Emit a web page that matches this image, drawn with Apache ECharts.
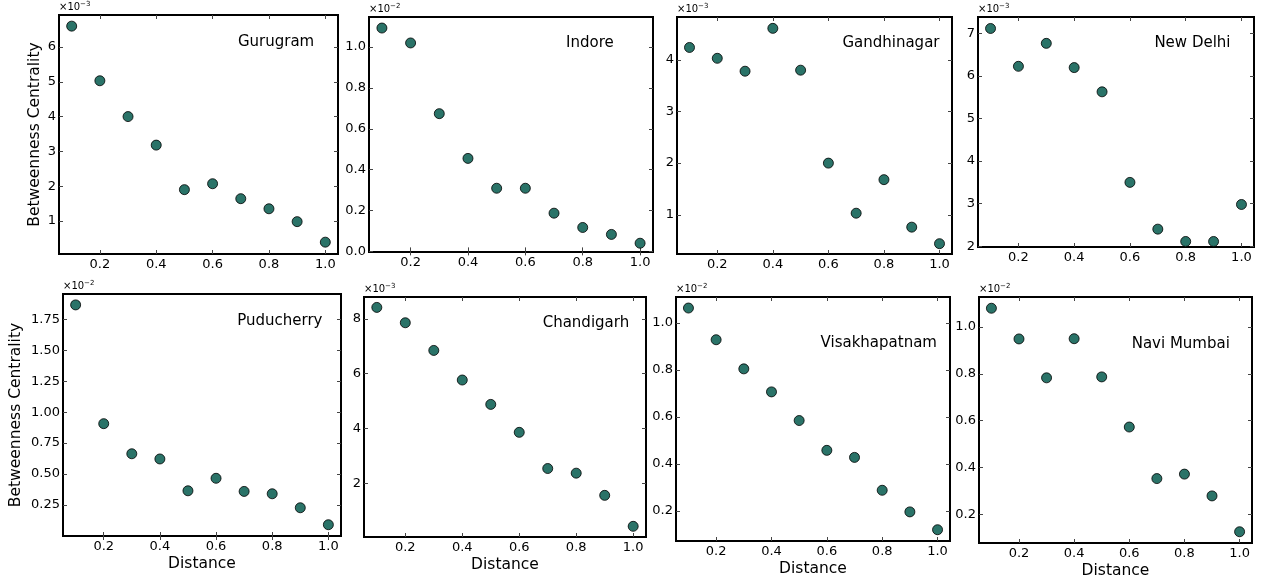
<!DOCTYPE html>
<html>
<head>
<meta charset="utf-8">
<script src="https://cdn.jsdelivr.net/npm/echarts@6/dist/echarts.min.js"></script>
<style>
  html, body { margin: 0; padding: 0; background: #fff; }
  #chart { width: 1262px; height: 581px; }
</style>
</head>
<body>
<div id="chart"></div>
<script>
// distance thresholds (x values shared by every panel)
const distance = [0.1, 0.2, 0.3, 0.4, 0.5, 0.6, 0.7, 0.8, 0.9, 1.0]
const xTicks = [0.2, 0.4, 0.6, 0.8, 1.0]

const cities = ['Gurugram', 'Indore', 'Gandhinagar', 'New Delhi', 'Puducherry', 'Chandigarh', 'Visakhapatnam', 'Navi Mumbai']

// betweenness centrality, in units of 10^exponent
const gurugram = [6.6, 5.03, 4.0, 3.18, 1.9, 2.07, 1.64, 1.35, 0.98, 0.39]
const indore = [1.093, 1.02, 0.674, 0.455, 0.309, 0.309, 0.187, 0.117, 0.083, 0.04]
const gandhinagar = [4.24, 4.03, 3.78, 4.61, 3.8, 2.0, 1.03, 1.68, 0.76, 0.44]
const newDelhi = [7.12, 6.23, 6.77, 6.2, 5.63, 3.5, 2.4, 2.11, 2.11, 2.98]
const puducherry = [1.866, 0.907, 0.664, 0.622, 0.365, 0.466, 0.36, 0.341, 0.228, 0.091]
const chandigarh = [8.42, 7.86, 6.85, 5.77, 4.88, 3.86, 2.54, 2.37, 1.56, 0.43]
const visakhapatnam = [1.064, 0.929, 0.805, 0.707, 0.585, 0.458, 0.428, 0.288, 0.196, 0.12]
const naviMumbai = [1.08, 0.949, 0.783, 0.95, 0.787, 0.573, 0.353, 0.372, 0.279, 0.126]

const exponents = [-3, -2, -3, -3, -2, -3, -2, -2]

const yTicks = [
  [1, 2, 3, 4, 5, 6],
  [0, 0.2, 0.4, 0.6, 0.8, 1.0],
  [1, 2, 3, 4],
  [2, 3, 4, 5, 6, 7],
  [0.25, 0.5, 0.75, 1.0, 1.25, 1.5, 1.75],
  [2, 4, 6, 8],
  [0.2, 0.4, 0.6, 0.8, 1.0],
  [0.2, 0.4, 0.6, 0.8, 1.0]
]
const yDecimals = [0, 1, 0, 0, 2, 0, 1, 1]
const yMin = [0.05, -0.003, 0.24, 1.98, 0.0, 0.04, 0.072, 0.078]
const yMax = [6.92, 1.147, 4.83, 7.39, 1.954, 8.8, 1.111, 1.128]

const allValues = [gurugram, indore, gandhinagar, newDelhi, puducherry, chandigarh, visakhapatnam, naviMumbai]

// plot boxes [left, top, width, height]
const boxes = [
  [59, 15, 279, 239],
  [369, 17, 284, 235],
  [677, 17, 275, 237],
  [978, 17, 276, 230],
  [63, 294, 278, 242],
  [364, 297, 282, 240],
  [676, 297, 274, 244],
  [979, 297, 273, 246]
]
// city label centre, as fraction of the box
const labelPos = [
  [0.778, 0.112], [0.778, 0.112], [0.778, 0.11], [0.777, 0.114],
  [0.78, 0.112], [0.787, 0.11], [0.74, 0.187], [0.739, 0.19]
]
const yNameGap = [16, 0, 0, 0, 39, 0, 0, 0]

const FONT = 'DejaVu Sans'
const tickStyle = { inside: true, length: 4, lineStyle: { color: '#444', width: 1 } }

const chart = echarts.init(document.getElementById('chart'), null, { renderer: 'canvas' })

const grid = []
const xAxis = []
const yAxis = []
const series = []
const graphic = []

cities.forEach((city, i) => {
  const [l, t, w, h] = boxes[i]
  grid.push({
    left: l, top: t, width: w, height: h,
    show: true, borderColor: '#000', borderWidth: 2, backgroundColor: 'transparent'
  })
  const bottomRow = i >= 4
  xAxis.push({
    type: 'value', gridIndex: i, position: 'bottom', min: 0.055, max: 1.045,
    axisLine: { show: false },
    axisTick: Object.assign({ customValues: xTicks }, tickStyle),
    splitLine: { show: false },
    axisLabel: {
      customValues: xTicks, margin: 4, fontFamily: FONT, fontSize: 13, color: '#000',
      formatter: v => v.toFixed(1)
    },
    name: bottomRow ? 'Distance' : '',
    nameLocation: 'middle', nameGap: 20,
    nameTextStyle: { fontFamily: FONT, fontSize: 15.5, color: '#000', verticalAlign: 'top' }
  })
  xAxis.push({
    type: 'value', gridIndex: i, position: 'top', min: 0.055, max: 1.045,
    axisLine: { show: false },
    axisTick: Object.assign({ customValues: xTicks }, tickStyle),
    splitLine: { show: false },
    axisLabel: { show: false }
  })
  const dec = yDecimals[i]
  yAxis.push({
    type: 'value', gridIndex: i, position: 'left', min: yMin[i], max: yMax[i],
    axisLine: { show: false },
    axisTick: Object.assign({ customValues: yTicks[i] }, tickStyle),
    splitLine: { show: false },
    axisLabel: {
      customValues: yTicks[i], margin: 3, fontFamily: FONT, fontSize: 13, color: '#000',
      formatter: v => v.toFixed(dec)
    },
    name: (i === 0 || i === 4) ? 'Betweenness Centrality' : '',
    nameLocation: 'middle', nameRotate: 90, nameGap: yNameGap[i],
    nameTextStyle: { fontFamily: FONT, fontSize: 15.5, color: '#000' }
  })
  yAxis.push({
    type: 'value', gridIndex: i, position: 'right', min: yMin[i], max: yMax[i],
    axisLine: { show: false },
    axisTick: Object.assign({ customValues: yTicks[i] }, tickStyle),
    splitLine: { show: false },
    axisLabel: { show: false }
  })
  series.push({
    type: 'scatter', name: city,
    xAxisIndex: 2 * i, yAxisIndex: 2 * i,
    symbol: 'circle', symbolSize: 10,
    itemStyle: { color: '#2a7368', borderColor: '#000', borderWidth: 0.8, opacity: 1 },
    data: distance.map((d, j) => [d, allValues[i][j]])
  })
  // city name inside the box
  graphic.push({
    type: 'text',
    x: l + labelPos[i][0] * w, y: t + labelPos[i][1] * h,
    style: {
      text: city, fontFamily: FONT, fontSize: 15, fill: '#000',
      align: 'center', verticalAlign: 'middle'
    }
  })
  // offset/multiplier above the box
  graphic.push({
    type: 'text',
    x: l, y: t - 2,
    style: {
      text: '{a|×10}{b|−' + Math.abs(exponents[i]) + '}',
      align: 'left', verticalAlign: 'bottom',
      rich: {
        a: { fontFamily: FONT, fontSize: 10, fill: '#000' },
        b: { fontFamily: FONT, fontSize: 7, fill: '#000', padding: [0, 0, 5, 0] }
      }
    }
  })
})

chart.setOption({
  animation: false,
  backgroundColor: '#fff',
  grid: grid,
  xAxis: xAxis,
  yAxis: yAxis,
  series: series,
  graphic: graphic
})
</script>
</body>
</html>
